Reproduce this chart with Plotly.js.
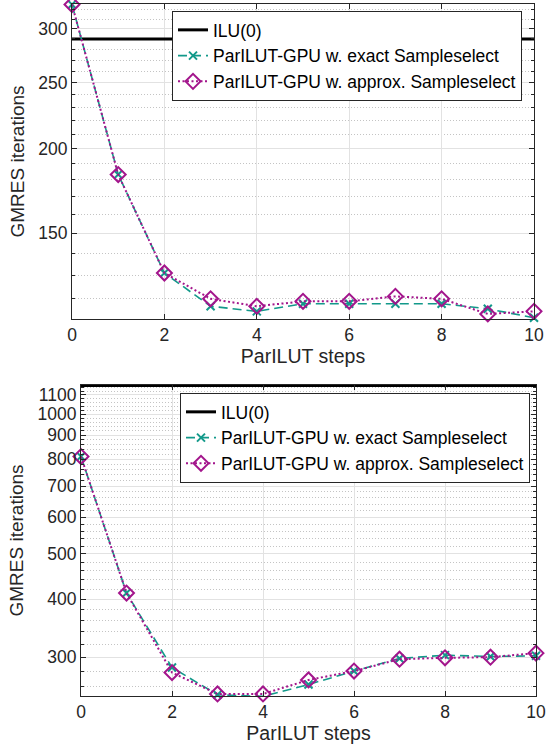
<!DOCTYPE html>
<html>
<head>
<meta charset="utf-8">
<script src="https://cdn.plot.ly/plotly-3.0.1.min.js"></script>
<style>html,body{margin:0;padding:0;background:#fff;}#chart{width:550px;height:749px;}</style>
</head>
<body>
<div id="chart"></div>
<script>
// ---- data ----
const steps = [0, 1, 2, 3, 4, 5, 6, 7, 8, 9, 10];
const seriesNames = ["ILU(0)", "ParILUT-GPU w. exact Sampleselect", "ParILUT-GPU w. approx. Sampleselect"];

const topIlu = 290;
const topExact  = [326, 183, 131, 117, 115, 118, 118, 118, 118, 116, 112.5];
const topApprox = [326, 183, 131, 120, 117, 119, 119, 121, 120, 114, 115];

const bottomIlu = 1152;
const bottomExact  = [810, 412, 285, 249, 247, 262, 280, 298, 303, 301, 302];
const bottomApprox = [810, 412, 278, 250, 250, 268, 280, 297, 299, 300, 306];

const xTicks = [0, 2, 4, 6, 8, 10];
const topYTicks = [150, 200, 250, 300];
const topYMinor = [110,120,130,140,160,170,180,190,210,220,230,240,260,270,280,290,310,320];
const bottomYTicks = [300,400,500,600,700,800,900,1000,1100];
const bottomYMinor = [260,280,320,340,360,380,420,440,460,480,520,540,560,580,620,640,660,680,
                      720,740,760,780,820,840,860,880,920,940,960,980,1020,1040,1060,1080,1120,1140,1160];

const xTitle = "ParILUT steps";
const yTitle = "GMRES iterations";

// ---- style ----
const FONT = "Liberation Sans, Arial, Helvetica, sans-serif";
const AX = "#262626";
const TEAL = "#12998a";
const MAG = "#a3158c";

function ilu(v){ return steps.map(() => v); }

function traces(xa, ya, leg, iluV, ex, ap){
  return [
    {x: steps, y: ilu(iluV), xaxis: xa, yaxis: ya, legend: leg, name: seriesNames[0],
     mode: "lines", line: {color: "#000", width: 3}, cliponaxis: false},
    {x: steps, y: ex, xaxis: xa, yaxis: ya, legend: leg, name: seriesNames[1],
     mode: "lines+markers", line: {color: TEAL, width: 1.6, dash: "9px,5px"},
     marker: {symbol: "x-thin-open", size: 8, line: {color: TEAL, width: 2}}, cliponaxis: false},
    {x: steps, y: ap, xaxis: xa, yaxis: ya, legend: leg, name: seriesNames[2],
     mode: "lines+markers", line: {color: MAG, width: 2, dash: "2px,2.5px"},
     marker: {symbol: "diamond-open", size: 11.5, color: MAG, line: {color: MAG, width: 2}}, cliponaxis: false}
  ];
}

const data = [].concat(
  traces("x", "y", "legend", topIlu, topExact, topApprox),
  traces("x2", "y2", "legend2", bottomIlu, bottomExact, bottomApprox)
);

function xaxis(domain, anchor){
  return {
    domain: domain, anchor: anchor, range: [0, 10],
    tickmode: "array", tickvals: xTicks,
    ticks: "inside", ticklen: 5, tickcolor: AX, tickwidth: 1,
    showline: true, linecolor: AX, linewidth: 1, mirror: "allticks",
    showgrid: true, gridcolor: "#e2e2e2", gridwidth: 1, zeroline: false,
    tickfont: {family: FONT, size: 17.5, color: AX},
    title: {text: xTitle, font: {family: FONT, size: 19.5, color: AX}, standoff: 5},
    automargin: false
  };
}
function yaxis(domain, anchor, range, tv, minor){
  return {
    domain: domain, anchor: anchor, type: "log", range: range,
    tickmode: "array", tickvals: tv, ticktext: tv.map(String),
    ticks: "inside", ticklen: 5, tickcolor: AX, tickwidth: 1,
    showline: true, linecolor: AX, linewidth: 1, mirror: "allticks",
    showgrid: true, gridcolor: "#e2e2e2", gridwidth: 1, zeroline: false,
    minor: {tickmode: "array", tickvals: minor, ticks: "inside", ticklen: 3, tickcolor: AX,
            showgrid: true, gridcolor: "#c4c4c4", griddash: "1px,2px", gridwidth: 1},
    tickfont: {family: FONT, size: 17.5, color: AX},
    title: {text: yTitle, font: {family: FONT, size: 19, color: AX}, standoff: 8},
    automargin: false
  };
}

const layout = {
  width: 550, height: 749,
  margin: {l: 40, r: 10, t: 2, b: 40},
  paper_bgcolor: "#fff", plot_bgcolor: "#fff",
  showlegend: true,
  font: {family: FONT, color: AX},
  xaxis: xaxis([0.064, 0.988], "y"),
  yaxis: yaxis([0.5516, 0.9972], "x", [2.0494, 2.5140], topYTicks, topYMinor),
  xaxis2: xaxis([0.082, 0.992], "y2"),
  yaxis2: yaxis([0.0184, 0.4583], "x2", [2.3936, 3.0624], bottomYTicks, bottomYMinor),
  legend: {x: 0.264, y: 0.9873, xanchor: "left", yanchor: "top", bgcolor: "#fff",
           bordercolor: AX, borderwidth: 1, font: {family: FONT, size: 17.5, color: "#000"},
           tracegroupgap: 0, itemwidth: 30},
  legend2: {x: 0.28, y: 0.4470, xanchor: "left", yanchor: "top", bgcolor: "#fff",
           bordercolor: AX, borderwidth: 1, font: {family: FONT, size: 17.5, color: "#000"},
           tracegroupgap: 0, itemwidth: 30}
};

Plotly.newPlot("chart", data, layout, {staticPlot: true, displayModeBar: false});
</script>
</body>
</html>
